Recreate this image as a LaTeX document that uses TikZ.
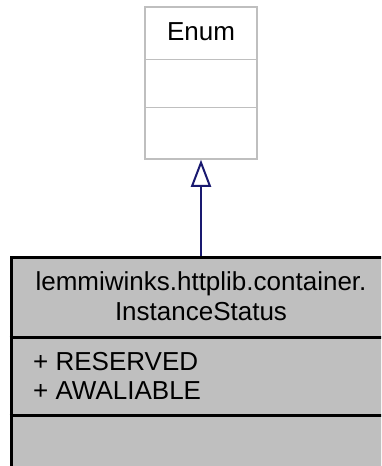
\documentclass[tikz,border=0pt]{standalone}
\usepackage{fontspec}
\setmainfont{Liberation Sans}
\usepackage{xcolor}
\usepackage{tikz}
\usetikzlibrary{calc, positioning, arrows.meta}
\definecolor{enumline}{HTML}{BFBFBF}
\definecolor{classfill}{HTML}{BFBFBF}
\definecolor{edgeblue}{HTML}{191970}

\begin{document}
\begin{tikzpicture}[x=1pt, y=-1pt, >={Triangle[open, length=27pt, width=20pt]},
    font=\fontsize{26}{30}\selectfont,
    enumbox/.style={draw=enumline, line width=1.5pt, fill=white, inner sep=0pt},
    classbox/.style={draw=black, line width=3pt, fill=classfill, inner sep=0pt},
    label/.style={inner sep=0pt}]
    % Khung hình
    \useasboundingbox (0,0) rectangle (381,466);
    \clip (0,0) rectangle (381,466);

    % Lớp Enum
    \node[enumbox, minimum width=112pt, minimum height=152pt] (enum) at (201,83) {};
    \draw[enumline, line width=1.5pt] ($(enum.north west)+(0,53)$) -- ($(enum.north east)+(0,53)$);
    \draw[enumline, line width=1.5pt] ($(enum.north west)+(0,101)$) -- ($(enum.north east)+(0,101)$);
    \node[label, anchor=base] (enumname) at (201,40) {Enum};

    % Lớp InstanceStatus
    \node[classbox, minimum width=380pt, minimum height=218pt] (status) at (201,366) {};
    \draw[line width=3pt] ($(status.north west)+(0,82)$) -- ($(status.north east)+(0,82)$);
    \draw[line width=3pt] ($(status.north west)+(0,160)$) -- ($(status.north east)+(0,160)$);
    \node[label, anchor=base] (title) at (201,290) {lemmiwinks.httplib.container.};
    \node[label, anchor=base] (name) at (201,320) {InstanceStatus};
    \node[label, anchor=base west] (reserved) at (33,370) {+ RESERVED};
    \node[label, anchor=base west] (awaliable) at (33,399) {+ AWALIABLE};

    % Kế thừa
    \draw[->, edgeblue, line width=2pt] (status.north) -- (enum.south);
\end{tikzpicture}
\end{document}
